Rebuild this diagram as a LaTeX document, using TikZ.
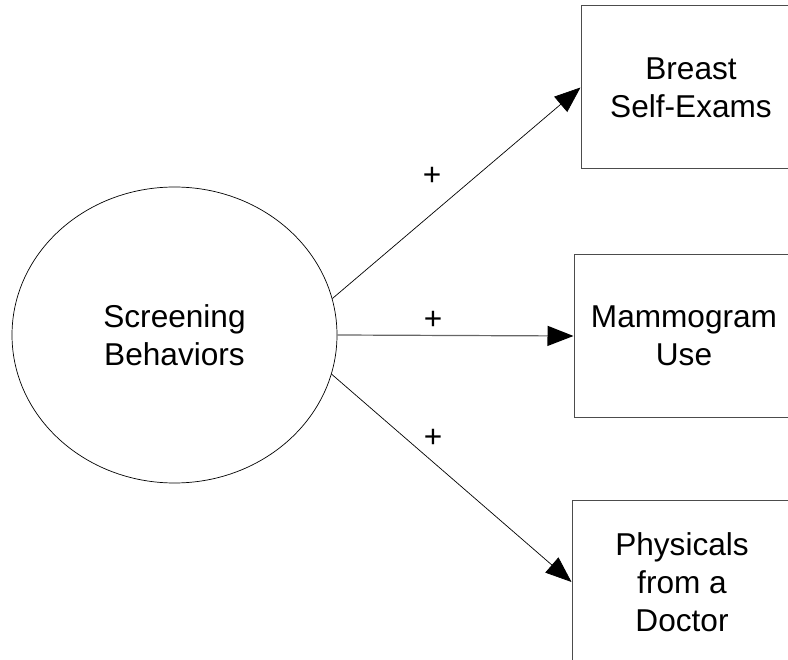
\documentclass[tikz,border=0pt]{standalone}
\usepackage{fontspec}
\setmainfont{Liberation Sans}
\usetikzlibrary{arrows.meta,shapes.geometric}
\begin{document}
\begin{tikzpicture}[x=1pt,y=-1pt,
  every node/.style={font=\fontsize{31.6}{38}\selectfont},
  construct/.style={ellipse,draw=black,line width=0.7pt,inner sep=0pt,
    minimum width=325pt,minimum height=296pt,align=center},
  indicator/.style={rectangle,draw=black!70,line width=1pt,inner sep=0pt,
    minimum width=220pt,minimum height=163pt,align=center},
  path/.style={draw=black,line width=0.7pt,
    -{Triangle[length=26pt,width=20pt,color=black]}},
  sign/.style={inner sep=0pt}]
  \useasboundingbox (0,0) rectangle (788,660);
  \clip (0,0) rectangle (788,660);

  % latent construct and its three indicators
  \node[construct] (sb) at (174.5,335) {Screening\\Behaviors};
  \node[indicator] (bse) at (691,87.5) {Breast\\Self-Exams};
  \node[indicator] (mam) at (684,336) {Mammogram\\Use};
  \node[indicator] (phy) at (682,582) {Physicals\\from a\\Doctor};

  % paths from the construct
  \draw[path] (sb.13.5) -- (bse.west);
  \draw[path,draw=black!60,line width=1.2pt] (sb.0) -- (mam.west);
  \draw[path] (sb.-14.2) -- (phy.west);

  % signs of the loadings
  \node[sign] (s1) at (432,176) {+};
  \node[sign] (s2) at (433,320) {+};
  \node[sign] (s3) at (433,438) {+};
\end{tikzpicture}
\end{document}
